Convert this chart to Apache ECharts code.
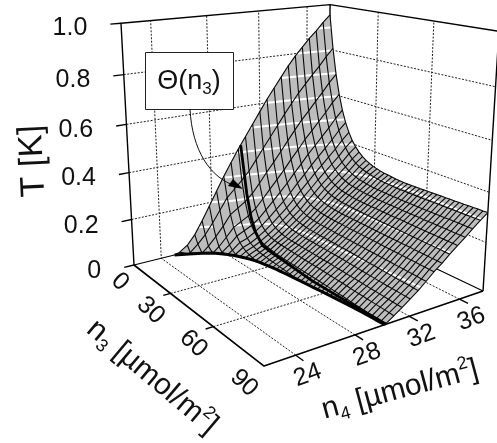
<!DOCTYPE html>
<html>
<head>
<meta charset="utf-8">
<style>
    html, body { margin: 0; padding: 0; background: #fff; }
    #chart-container { width: 497px; height: 443px; }
</style>
<script src="https://cdn.jsdelivr.net/npm/echarts@6/dist/echarts.min.js"></script>
</head>
<body>
<div id="chart-container"></div>
<script>
'use strict';

const n3Ticks = [0, 30, 60, 90];
const n4Ticks = [24, 28, 32, 36];
const tTicks = [0, 0.2, 0.4, 0.6, 0.8, 1];
const tTickLabels = ['0', '0.2', '0.4', '0.6', '0.8', '1.0'];
const contourLevels = [0.1, 0.2, 0.3, 0.4, 0.5, 0.6, 0.7, 0.8, 0.9];

const n3Rows = [0, 2.25, 4.5, 6.75, 9, 11.25, 13.5, 15.75, 18, 20.25, 22.5, 24.75, 27, 29.25, 31.5, 33.75, 36, 38.25, 40.5, 42.75, 45, 47.25, 49.5, 51.75, 54, 56.25, 58.5, 60.75, 63, 65.25, 67.5, 69.75, 72, 74.25, 76.5, 78.75, 81, 83.25, 85.5, 87.75, 90];
const n4Cols = [25, 25.4, 26, 26.6, 27.2, 27.8, 28.4, 29, 29.6, 30.2, 30.8, 31.4, 32, 32.6, 33.2, 33.8, 34.4, 35, 35.6, 36.2, 36.8, 37.4, 38];

// n4 where T reaches 0, one per n3 row
const zeroLineN4 = [25, 25.9, 26.7, 27.3, 27.7, 28, 28.3, 28.5, 28.7, 28.85, 29, 29.08, 29.15, 29.23, 29.3, 29.36, 29.4, 29.45, 29.5, 29.54, 29.58, 29.62, 29.65, 29.69, 29.72, 29.76, 29.8, 29.83, 29.87, 29.91, 29.94, 29.97, 30, 30.02, 30.05, 30.07, 30.08, 30.1, 30.11, 30.13, 30.15];

// T per n4 column, one value per n3 row; a column stops where T is 0
const tempByN4 = [
    [0],
    [.007],
    [.03, .004],
    [.07, .035],
    [.125, .07, .025],
    [.185, .115, .06, .022, .005],
    [.245, .165, .1, .057, .03, .014, .004],
    [.305, .215, .145, .094, .062, .041, .026, .017, .01, .005],
    [.36, .247, .167, .112, .078, .052, .038, .03, .024, .02, .017, .015, .013, .012, .01, .009, .007, .006, .004, .002, .0007],
    [.415, .279, .189, .131, .094, .071, .056, .047, .04, .036, .033, .03, .028, .027, .026, .025, .024, .023, .022, .022, .021, .02, .02, .019, .018, .017, .016, .015, .014, .013, .012, .011, .009, .008, .007, .006, .005, .004, .004, .003, .002],
    [.465, .315, .219, .157, .118, .094, .078, .068, .061, .057, .055, .053, .052, .051, .05, .049, .048, .047, .046, .045, .044, .044, .043, .042, .041, .04, .039, .038, .037, .036, .034, .033, .032, .031, .03, .029, .028, .027, .026, .025, .023],
    [.515, .36, .259, .193, .15, .122, .103, .091, .083, .078, .074, .072, .071, .07, .069, .068, .067, .067, .066, .065, .064, .063, .063, .062, .061, .06, .059, .058, .057, .056, .055, .054, .053, .052, .051, .05, .049, .048, .047, .046, .045],
    [.565, .407, .302, .231, .183, .152, .131, .117, .107, .101, .097, .094, .092, .091, .09, .089, .089, .088, .087, .087, .086, .085, .085, .084, .083, .082, .081, .08, .079, .078, .077, .076, .075, .074, .073, .072, .071, .071, .07, .069, .068],
    [.615, .452, .342, .268, .217, .182, .159, .143, .133, .125, .121, .117, .115, .113, .112, .111, .11, .11, .109, .108, .108, .107, .106, .106, .105, .104, .103, .102, .101, .1, .1, .099, .098, .097, .096, .095, .094, .094, .093, .092, .091],
    [.66, .497, .384, .306, .252, .215, .19, .172, .159, .151, .145, .141, .138, .136, .135, .134, .133, .133, .132, .131, .131, .13, .13, .129, .128, .128, .127, .126, .126, .125, .124, .124, .123, .122, .122, .121, .12, .12, .119, .118, .118],
    [.705, .543, .428, .348, .291, .251, .223, .204, .19, .18, .173, .169, .165, .163, .161, .16, .159, .158, .158, .157, .156, .156, .155, .155, .154, .154, .153, .153, .152, .151, .151, .15, .15, .149, .149, .148, .148, .147, .147, .146, .146],
    [.75, .586, .47, .386, .327, .285, .255, .234, .218, .207, .199, .194, .19, .187, .185, .183, .182, .181, .181, .18, .18, .179, .179, .178, .178, .177, .177, .176, .176, .175, .175, .174, .174, .174, .173, .173, .172, .172, .171, .171, .17],
    [.79, .628, .511, .427, .365, .321, .289, .266, .249, .237, .228, .221, .217, .214, .211, .21, .208, .207, .206, .206, .205, .205, .204, .204, .203, .203, .203, .202, .202, .201, .201, .201, .2, .2, .199, .199, .199, .198, .198, .197, .197],
    [.825, .665, .547, .462, .399, .353, .319, .295, .277, .264, .254, .247, .242, .238, .236, .233, .231, .23, .229, .229, .228, .228, .227, .227, .227, .226, .226, .226, .226, .225, .225, .225, .224, .224, .224, .224, .223, .223, .223, .223, .222],
    [.86, .702, .585, .498, .434, .386, .351, .324, .306, .291, .28, .273, .266, .262, .259, .257, .255, .253, .252, .251, .25, .25, .249, .249, .249, .249, .248, .248, .248, .248, .248, .247, .247, .247, .247, .247, .247, .246, .246, .246, .246],
    [.89, .736, .621, .534, .468, .419, .382, .354, .333, .318, .306, .297, .29, .285, .282, .279, .276, .275, .274, .273, .272, .271, .271, .271, .27, .27, .27, .27, .27, .27, .27, .27, .27, .27, .27, .271, .271, .271, .271, .271, .272],
    [.925, .775, .661, .574, .507, .456, .417, .388, .365, .348, .335, .325, .318, .312, .308, .304, .301, .299, .297, .296, .295, .294, .294, .294, .294, .294, .294, .294, .294, .295, .295, .295, .295, .295, .296, .296, .296, .296, .297, .297, .297],
    [.955, .808, .694, .607, .539, .487, .447, .415, .391, .373, .358, .347, .339, .332, .327, .323, .32, .318, .316, .314, .313, .312, .312, .312, .312, .312, .313, .313, .314, .314, .315, .315, .316, .316, .317, .317, .318, .318, .319, .319, .32]
];

// the Theta(n3) curve on the surface
const thetaN3 = [0, 1.5, 4, 7, 10, 15, 22, 30, 50, 70, 90];
const thetaN4 = [30.4, 30.4, 30.4, 30.4, 30.4, 30.4, 30.4, 30.4, 30.2, 30.2, 30.25];
const thetaT = [.43, .352, .22, .119, .065, .021, .012, .006, .002, .001, 0];

// fitted to the corners of the box in the picture: [s, r, T, 1] -> page
const camera = [
    [241.6, 72.8, -21.9, 134],
    [-16.5, 21.7, -243.5, 265],
    [.1451, -.2168, -.0735, 1]
];

function project(n3, n4, t) {
    const v = [(n4 - 22) / 16, n3 / 90, t, 1];
    const dot = (row) => row[0] * v[0] + row[1] * v[1] + row[2] * v[2] + row[3];
    const w = dot(camera[2]);
    return [dot(camera[0]) / w, dot(camera[1]) / w];
}

const tempAt = (i, j) => tempByN4[j][i] || 0;

// points at T = 0 slide along their row to the zero line, so the edge stays smooth
function vertex(i, j) {
    const t = tempAt(i, j);
    return t > 0 ? [n3Rows[i], n4Cols[j], t] : [n3Rows[i], zeroLineN4[i], 0];
}

const base = {
    type: 'line',
    symbol: 'none',
    silent: true,
    animation: false,
    clip: true
};

function path(points, lineStyle, z) {
    return Object.assign({}, base, {
        z: z,
        data: points.map((p) => project(p[0], p[1], p[2])),
        lineStyle: Object.assign({ color: '#000', width: 1 }, lineStyle)
    });
}

const series = [];
const gridStyle = { color: '#222', width: 1, type: [2, 1.5] };

// walls and floor grid
tTicks.slice(1, -1).forEach((t) => {
    series.push(path([[0, 22, t], [0, 38, t], [90, 38, t]], gridStyle, 1));
});
n4Ticks.forEach((n4) => {
    series.push(path([[90, n4, 0], [0, n4, 0], [0, n4, 1]], gridStyle, 1));
});
n3Ticks.slice(1, -1).forEach((n3) => {
    series.push(path([[n3, 22, 0], [n3, 38, 0], [n3, 38, 1]], gridStyle, 1));
});

// box
const frame = { width: 1.4 };
series.push(path([[0, 22, 0], [0, 22, 1], [0, 38, 1], [90, 38, 1], [90, 38, 0]], frame, 1));
series.push(path([[0, 38, 0], [0, 38, 1]], frame, 1));
series.push(path([[0, 22, 0], [0, 38, 0], [90, 38, 0]], { width: 1.2 }, 1));
series.push(path([[0, 22, 0], [90, 22, 0], [90, 38, 0]], { width: 1.6 }, 1));

// ticks
tTicks.forEach((t) => series.push(path([[0, 22, t], [0, 21.3, t]], frame, 1)));
n3Ticks.slice(1, -1).forEach((n3) => series.push(path([[n3, 22, 0], [n3, 21.5, 0]], frame, 1)));
n4Ticks.forEach((n4) => series.push(path([[90, n4, 0], [94, n4, 0]], frame, 1)));

// surface cells
const cells = [];
const contours = [];
for (let i = 0; i < n3Rows.length - 1; i++) {
    for (let j = 0; j < n4Cols.length - 1; j++) {
        const corners = [vertex(i, j), vertex(i + 1, j), vertex(i + 1, j + 1), vertex(i, j + 1)];
        if (corners.every((c) => c[2] === 0)) {
            continue;
        }
        cells.push(corners);
        contourLevels.forEach((level) => {
            const cut = [];
            corners.forEach((a, k) => {
                const b = corners[(k + 1) % 4];
                if ((a[2] - level) * (b[2] - level) < 0) {
                    const f = (level - a[2]) / (b[2] - a[2]);
                    cut.push([a[0] + (b[0] - a[0]) * f, a[1] + (b[1] - a[1]) * f, level]);
                }
            });
            if (cut.length >= 2) {
                contours.push([cut[0], cut[1]]);
            }
        });
    }
}

series.push({
    type: 'custom',
    silent: true,
    animation: false,
    z: 2,
    data: cells.map((c, k) => [k, 0]),
    renderItem: (params, api) => ({
        type: 'polygon',
        shape: {
            points: cells[api.value(0)].map((c) => api.coord(project(c[0], c[1], c[2])))
        },
        style: { fill: '#bdbdbd', stroke: '#bdbdbd', lineWidth: 0.5 }
    })
});

series.push({
    type: 'custom',
    silent: true,
    animation: false,
    z: 3,
    data: contours.map((c, k) => [k, 0]),
    renderItem: (params, api) => {
        const seg = contours[api.value(0)].map((c) => api.coord(project(c[0], c[1], c[2])));
        return {
            type: 'line',
            shape: { x1: seg[0][0], y1: seg[0][1], x2: seg[1][0], y2: seg[1][1] },
            style: { stroke: '#fff', lineWidth: 2 }
        };
    }
});

// mesh
const meshStyle = { width: 1.1, color: '#0a0a0a' };
n3Rows.forEach((n3, i) => {
    const row = n4Cols.map((n4, j) => vertex(i, j));
    series.push(path(row, meshStyle, 4));
});
n4Cols.forEach((n4, j) => {
    const col = [];
    for (let i = 0; i < n3Rows.length; i++) {
        col.push(vertex(i, j));
        if (tempAt(i, j) === 0) {
            break;
        }
    }
    series.push(path(col, meshStyle, 4));
});

// thick curves
series.push(path(n3Rows.map((n3, i) => [n3, zeroLineN4[i], 0]), { width: 3 }, 5));
series.push(path(thetaN3.map((n3, i) => [n3, thetaN4[i], thetaT[i]]), { width: 2.8 }, 5));

// text, anchored at a data point plus a page offset
const FONT = '"Liberation Sans", Arial, sans-serif';
const titleRich = {
    b: { fontFamily: FONT, fontSize: 30, lineHeight: 36, fill: '#111', color: '#111' },
    sub: { fontFamily: FONT, fontSize: 18, lineHeight: 18, verticalAlign: 'bottom', padding: [8, 0, 0, 0], fill: '#111', color: '#111' },
    sup: { fontFamily: FONT, fontSize: 18, lineHeight: 18, verticalAlign: 'top', padding: [0, 0, 6, 0], fill: '#111', color: '#111' }
};
const texts = [];
tTicks.forEach((t, k) => texts.push({ at: [0, 21.3, t], dx: -23, dy: 4, text: tTickLabels[k], align: 'right', rot: 0 }));
n3Ticks.forEach((n3) => texts.push({ at: [n3, 22, 0], dx: n3 === 0 ? -14 : -20, dy: 17, text: String(n3), align: 'center', rot: -0.75 }));
n4Ticks.forEach((n4) => texts.push({ at: [90, n4, 0], dx: 12, dy: 20, text: String(n4), align: 'center', rot: 0.35 }));

function textEl(item, api) {
    const p = api.coord(project(item.at[0], item.at[1], item.at[2]));
    return {
        type: 'text',
        x: p[0] + item.dx,
        y: p[1] + item.dy,
        rotation: item.rot,
        style: {
            text: item.text,
            font: '25px ' + FONT,
            fill: '#111',
            align: item.align,
            verticalAlign: 'middle'
        }
    };
}

series.push({
    type: 'custom',
    silent: true,
    animation: false,
    z: 6,
    data: texts.map((c, k) => [k, 0]),
    renderItem: (params, api) => textEl(texts[api.value(0)], api)
});

const option = {
    animation: false,
    backgroundColor: '#fff',
    grid: { left: 0, right: 0, top: 0, bottom: 0 },
    xAxis: { type: 'value', min: 0, max: 497, show: false },
    yAxis: { type: 'value', min: 0, max: 443, inverse: true, show: false },
    series: series,
    graphic: [
        {
            type: 'text', x: 33, y: 161, rotation: 1.62, z: 10,
            style: { text: 'T [K]', font: '34px ' + FONT, fill: '#111', align: 'center', verticalAlign: 'middle' }
        },
        {
            type: 'text', x: 152, y: 377, rotation: -0.7, z: 10,
            style: {
                text: '{b|n}{sub|3}{b| [µmol/m}{sup|2}{b|]}',
                align: 'center', verticalAlign: 'middle', rich: titleRich
            }
        },
        {
            type: 'text', x: 400, y: 390, rotation: 0.262, z: 10,
            style: {
                text: '{b|n}{sub|4}{b| [µmol/m}{sup|2}{b|]}',
                align: 'center', verticalAlign: 'middle', rich: titleRich
            }
        },
        {
            type: 'rect', z: 10,
            shape: { x: 145.5, y: 52.5, width: 88, height: 57 },
            style: { fill: '#fff', stroke: '#222', lineWidth: 1 }
        },
        {
            type: 'text', x: 189, y: 82, z: 11,
            style: {
                text: '{a|\u0398(n}{s|3}{a|)}',
                align: 'center', verticalAlign: 'middle',
                rich: {
                    a: { fontFamily: FONT, fontSize: 27, lineHeight: 32, fill: '#111', color: '#111' },
                    s: { fontFamily: FONT, fontSize: 17, lineHeight: 17, verticalAlign: 'bottom', padding: [8, 0, 0, 0], fill: '#111', color: '#111' }
                }
            }
        },
        {
            type: 'bezierCurve', z: 10,
            shape: { x1: 190, y1: 109, cpx1: 192, cpy1: 150, cpx2: 210, cpy2: 178, x2: 236, y2: 186 },
            style: { stroke: '#111', lineWidth: 1, fill: null }
        },
        {
            type: 'polygon', z: 11,
            shape: { points: [[243, 189], [228, 186], [233, 179]] },
            style: { fill: '#000' }
        }
    ]
};

const myChart = echarts.init(document.getElementById('chart-container'), null, { renderer: 'canvas' });
myChart.setOption(option);
window.addEventListener('resize', myChart.resize);
</script>
</body>
</html>
